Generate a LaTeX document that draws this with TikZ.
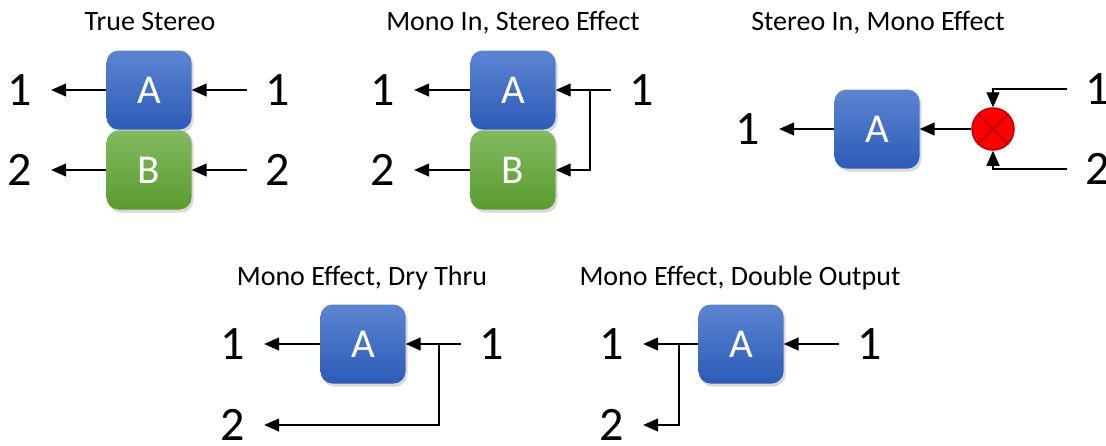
\documentclass[tikz,border=0pt]{standalone}
\usepackage{fontspec}
\setmainfont{Carlito}
\usetikzlibrary{arrows.meta,shadows}

\definecolor{fxblueT}{HTML}{5C84D2}
\definecolor{fxblueB}{HTML}{2C5BB6}
\definecolor{fxgreenT}{HTML}{82BA62}
\definecolor{fxgreenB}{HTML}{5A9B2E}
\definecolor{mixred}{HTML}{FF0000}
\definecolor{mixdark}{HTML}{C00000}

\tikzset{
  fx/.style={rounded corners=12pt, minimum width=85pt, minimum height=79pt,
    text=white, font=\fontsize{41}{41}\selectfont,
    drop shadow={opacity=0.3, shadow xshift=2pt, shadow yshift=-3pt}},
  fxa/.style={fx, top color=fxblueT, bottom color=fxblueB},
  fxb/.style={fx, top color=fxgreenT, bottom color=fxgreenB},
  chan/.style={font=\fontsize{48}{48}\selectfont, inner sep=0pt, outer xsep=19pt},
  ttl/.style={font=\fontsize{28}{28}\selectfont, anchor=base},
  mix/.style={circle, minimum size=42pt, inner sep=0pt, fill=mixred,
    draw=mixdark, line width=1.5pt},
  wire/.style={line width=1.4pt},
  sig/.style={wire, -{Triangle[length=15pt,width=13pt]}},
}

\begin{document}
\begin{tikzpicture}[x=1pt,y=-1pt]
\useasboundingbox (0,0) rectangle (1106,445);

% True Stereo
\node[ttl] (t1) at (150,30) {True Stereo};
\node[fxa] (a1) at (149,90) {A};
\node[fxb] (b1) at (149,170) {B};
\node[chan] (o11) at (20,90) {1};
\node[chan] (o12) at (20,170) {2};
\node[chan] (i11) at (278,90) {1};
\node[chan] (i12) at (278,170) {2};
\draw[sig] (a1) -- (o11);
\draw[sig] (b1) -- (o12);
\draw[sig] (i11) -- (a1);
\draw[sig] (i12) -- (b1);

% Mono In, Stereo Effect
\node[ttl] (t2) at (513,30) {Mono In, Stereo Effect};
\node[fxa] (a2) at (513,90) {A};
\node[fxb] (b2) at (513,170) {B};
\node[chan] (o21) at (383,90) {1};
\node[chan] (o22) at (383,170) {2};
\node[chan] (i21) at (642,90) {1};
\coordinate (j2) at (590,90);
\draw[sig] (a2) -- (o21);
\draw[sig] (b2) -- (o22);
\draw[wire] (i21) -- (j2);
\draw[sig] (j2) -- (a2);
\draw[sig] (j2) |- (b2);

% Stereo In, Mono Effect
\node[ttl] (t3) at (878,30) {Stereo In, Mono Effect};
\node[fxa] (a3) at (877,129) {A};
\node[mix] (m3) at (993,129) {};
\draw[mixdark, line width=2pt] (m3.north west) -- (m3.south east)
  (m3.north east) -- (m3.south west);
\node[chan] (o31) at (748,129) {1};
\node[chan] (i31) at (1098,89) {1};
\node[chan] (i32) at (1098,169) {2};
\draw[sig] (a3) -- (o31);
\draw[sig] (m3) -- (a3);
\draw[sig] (i31.west) -| (m3.north);
\draw[sig] (i32.west) -| (m3.south);

% Mono Effect, Dry Thru
\node[ttl] (t4) at (362,285) {Mono Effect, Dry Thru};
\node[fxa] (a4) at (363,344) {A};
\node[chan] (o41) at (233,344) {1};
\node[chan] (o42) at (233,425) {2};
\node[chan] (i41) at (492,344) {1};
\coordinate (j4) at (439,344);
\draw[sig] (a4) -- (o41);
\draw[wire] (i41) -- (j4);
\draw[sig] (j4) -- (a4);
\draw[sig] (j4) |- (o42);

% Mono Effect, Double Output
\node[ttl] (t5) at (740,285) {Mono Effect, Double Output};
\node[fxa] (a5) at (741,344) {A};
\node[chan] (o51) at (612,344) {1};
\node[chan] (o52) at (612,425) {2};
\node[chan] (i51) at (870,344) {1};
\coordinate (j5) at (679,344);
\draw[sig] (i51) -- (a5);
\draw[wire] (a5) -- (j5);
\draw[sig] (j5) -- (o51);
\draw[sig] (j5) |- (o52);

\end{tikzpicture}
\end{document}
